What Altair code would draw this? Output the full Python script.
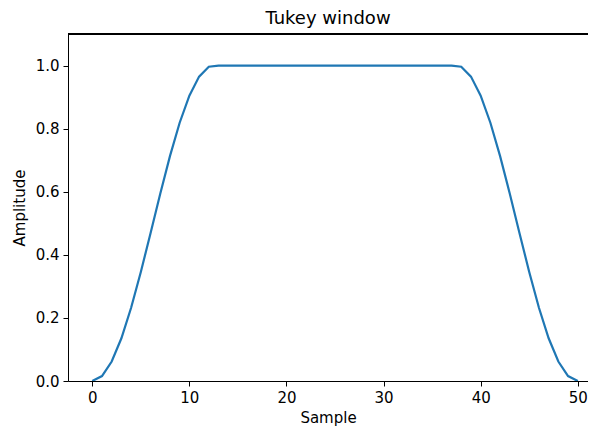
import altair as alt
import pandas as pd

# Tukey window amplitude, samples 0..50
samples = list(range(51))
amplitude = [
    0.0, 0.0157, 0.0618, 0.1355, 0.2321, 0.3455, 0.4686, 0.5937, 0.7129,
    0.8187, 0.9045, 0.9649, 0.9961,
    1.0, 1.0, 1.0, 1.0, 1.0, 1.0, 1.0, 1.0, 1.0, 1.0, 1.0, 1.0, 1.0,
    1.0, 1.0, 1.0, 1.0, 1.0, 1.0, 1.0, 1.0, 1.0, 1.0, 1.0, 1.0,
    0.9961, 0.9649, 0.9045, 0.8187, 0.7129, 0.5937, 0.4686, 0.3455,
    0.2321, 0.1355, 0.0618, 0.0157, 0.0,
]
x_ticks = [0, 10, 20, 30, 40, 50]
y_ticks = [0.0, 0.2, 0.4, 0.6, 0.8, 1.0]

df = pd.DataFrame({"Sample": samples, "Amplitude": amplitude})

FONT = "DejaVu Sans"
W, H = 520, 347
PX_PER_UNIT = 9.71
x_max = -2.5 + W / PX_PER_UNIT

line = alt.Chart(df).mark_line(color="#1f77b4", strokeWidth=2.2, clip=True).encode(
    x=alt.X("Sample:Q", scale=alt.Scale(domain=[-2.5, x_max], nice=False, zero=False),
            axis=alt.Axis(values=x_ticks, format="d", title="Sample")),
    y=alt.Y("Amplitude:Q", scale=alt.Scale(domain=[0, 1.1], nice=False),
            axis=alt.Axis(values=y_ticks, format=".1f", title="Amplitude")),
)

top = alt.Chart(df).mark_rule(color="black", strokeWidth=1).encode(
    x=alt.value(0), x2=alt.value(W), y=alt.value(0)
)

chart = alt.layer(line, top).properties(
    width=W, height=H,
    title=alt.Title("Tukey window", font=FONT, fontSize=18, fontWeight="normal",
                    color="black", anchor="middle", offset=6),
    autosize=alt.AutoSizeParams(type="none"),
    padding={"left": 60, "top": 26, "right": 0, "bottom": 45},
).configure_view(stroke=None).configure_axis(
    grid=False, domainColor="black", tickColor="black", tickSize=5,
    labelFont=FONT, labelFontSize=15, labelColor="black", labelPadding=4,
    titleFont=FONT, titleFontSize=15, titleColor="black", titleFontWeight="normal",
).configure_axisX(titlePadding=5).configure_axisY(titlePadding=8)

chart.save("out.html", embed_options={"renderer": "svg", "actions": False})
